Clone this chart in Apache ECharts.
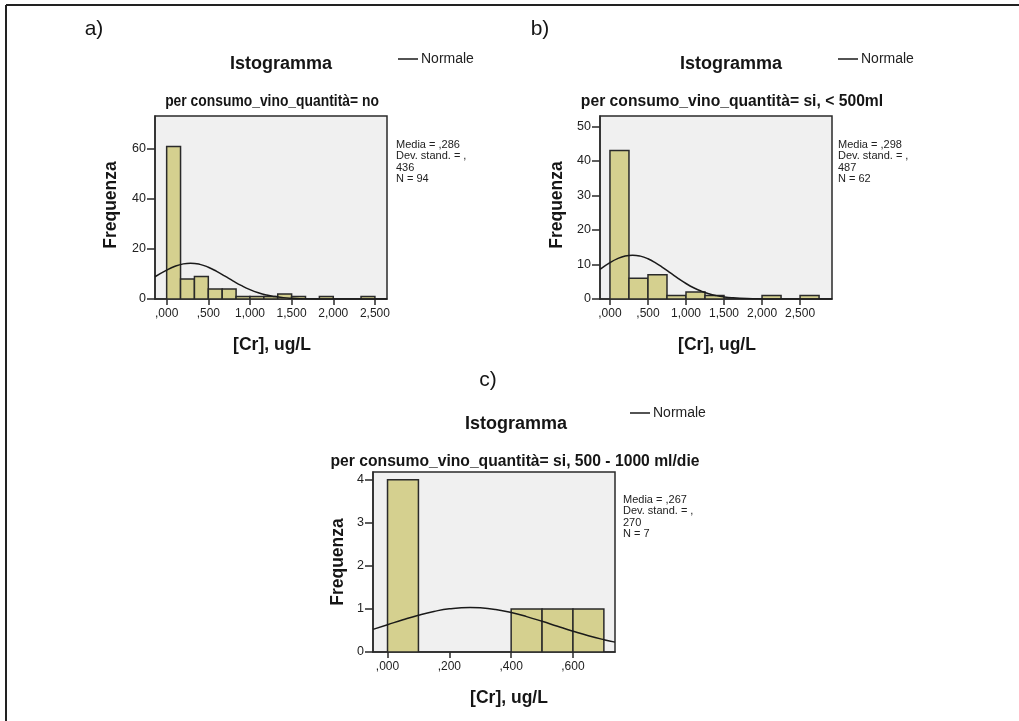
<!DOCTYPE html>
<html>
<head>
<meta charset="utf-8">
<script src="https://cdn.jsdelivr.net/npm/echarts@6/dist/echarts.min.js"></script>
<style>
html,body{margin:0;padding:0;background:#fff;}
#c{width:1019px;height:721px;}
</style>
</head>
<body>
<div id="c"></div>
<script>
// ---------- DATA ----------
// Panel a) consumo_vino_quantità = no
const binStartA = 0;
const binWidthA = 1 / 6;
const countsA = [61, 8, 9, 4, 4, 1, 1, 1, 2, 1, 0, 1, 0, 0, 1];
const curveXA = [-0.14, 0, 0.1, 0.2, 0.286, 0.4, 0.5, 0.6, 0.7, 0.8, 0.9, 1.0, 1.1, 1.2, 1.3, 1.4, 1.5, 1.6, 1.8, 2.0, 2.645];
const curveYA = [8.90, 11.55, 13.08, 14.05, 14.33, 13.85, 12.70, 11.06, 9.13, 7.15, 5.32, 3.75, 2.51, 1.59, 0.96, 0.55, 0.30, 0.15, 0.03, 0.0, 0.0];
const xTicksA = [0, 0.5, 1, 1.5, 2, 2.5];
const xTickLabelsA = [',000', ',500', '1,000', '1,500', '2,000', '2,500'];
const yTicksA = [0, 20, 40, 60];
const statsA = ['Media = ,286', 'Dev. stand. = ,', '436', 'N = 94'];
const subtitleA = 'per consumo_vino_quantità= no';

// Panel b) consumo_vino_quantità = si, < 500ml
const binStartB = 0;
const binWidthB = 0.25;
const countsB = [43, 6, 7, 1, 2, 1, 0, 0, 1, 0, 1];
const curveXB = [-0.131, 0, 0.1, 0.2, 0.298, 0.4, 0.5, 0.6, 0.7, 0.8, 0.9, 1.0, 1.1, 1.2, 1.3, 1.4, 1.5, 1.6, 1.8, 2.0, 2.2, 2.92];
const curveYB = [8.61, 10.53, 11.69, 12.45, 12.70, 12.42, 11.66, 10.48, 9.03, 7.47, 5.92, 4.49, 3.27, 2.29, 1.53, 0.98, 0.60, 0.36, 0.11, 0.03, 0.01, 0.0];
const xTicksB = [0, 0.5, 1, 1.5, 2, 2.5];
const xTickLabelsB = [',000', ',500', '1,000', '1,500', '2,000', '2,500'];
const yTicksB = [0, 10, 20, 30, 40, 50];
const statsB = ['Media = ,298', 'Dev. stand. = ,', '487', 'N = 62'];
const subtitleB = 'per consumo_vino_quantità= si, < 500ml';

// Panel c) consumo_vino_quantità = si, 500 - 1000 ml/die
const binStartC = 0;
const binWidthC = 0.1;
const countsC = [4, 0, 0, 0, 1, 1, 1];
const curveXC = [-0.047, 0, 0.05, 0.1, 0.15, 0.2, 0.267, 0.3, 0.35, 0.4, 0.45, 0.5, 0.55, 0.6, 0.65, 0.7, 0.736];
const curveYC = [0.526, 0.634, 0.749, 0.854, 0.941, 1.003, 1.034, 1.026, 0.986, 0.916, 0.822, 0.713, 0.597, 0.484, 0.378, 0.286, 0.229];
const xTicksC = [0, 0.2, 0.4, 0.6];
const xTickLabelsC = [',000', ',200', ',400', ',600'];
const yTicksC = [0, 1, 2, 3, 4];
const statsC = ['Media = ,267', 'Dev. stand. = ,', '270', 'N = 7'];
const subtitleC = 'per consumo_vino_quantità= si, 500 - 1000 ml/die';

const mainTitle = 'Istogramma';
const legendName = 'Normale';
const yTitle = 'Frequenza';
const xTitle = '[Cr], ug/L';
const panelLetters = ['a)', 'b)', 'c)'];

// ---------- BUILD ----------
const FONT = "'Liberation Sans', Arial, sans-serif";
const BAR_FILL = '#d5d08f';
const EDGE = '#2a2a2a';

function bins(start, width, counts) {
  const out = [];
  counts.forEach((c, i) => { if (c > 0) out.push([start + i * width, start + (i + 1) * width, c]); });
  return out;
}
function pairs(xs, ys) { return xs.map((x, i) => [x, ys[i]]); }

const panels = [
  { grid: { left: 155, top: 116, width: 232, height: 183 }, xmin: -0.14, xmax: 2.645, ymax: 73.2,
    bins: bins(binStartA, binWidthA, countsA), curve: pairs(curveXA, curveYA),
    xt: xTicksA, xl: xTickLabelsA, yt: yTicksA },
  { grid: { left: 600, top: 116, width: 232, height: 183 }, xmin: -0.131, xmax: 2.92, ymax: 53.0,
    bins: bins(binStartB, binWidthB, countsB), curve: pairs(curveXB, curveYB),
    xt: xTicksB, xl: xTickLabelsB, yt: yTicksB },
  { grid: { left: 373, top: 472, width: 242, height: 180 }, xmin: -0.047, xmax: 0.736, ymax: 4.18,
    bins: bins(binStartC, binWidthC, countsC), curve: pairs(curveXC, curveYC),
    xt: xTicksC, xl: xTickLabelsC, yt: yTicksC }
];

const grid = [], xAxis = [], yAxis = [], series = [];
panels.forEach((p, i) => {
  grid.push(Object.assign({ show: true, backgroundColor: '#f0f0f0', borderColor: EDGE, borderWidth: 1.5 }, p.grid));
  xAxis.push({
    type: 'value', gridIndex: i, min: p.xmin, max: p.xmax,
    axisLine: { show: true, onZero: false, lineStyle: { color: EDGE, width: 1.5 } },
    axisTick: { show: true, length: 6, customValues: p.xt, lineStyle: { color: EDGE, width: 1.5 } },
    axisLabel: { customValues: p.xt, margin: 9, color: '#222', fontSize: 12, fontFamily: FONT,
      formatter: v => { const k = p.xt.findIndex(t => Math.abs(t - v) < 1e-9); return k >= 0 ? p.xl[k] : ''; } },
    splitLine: { show: false }
  });
  yAxis.push({
    type: 'value', gridIndex: i, min: 0, max: p.ymax,
    axisLine: { show: true, onZero: false, lineStyle: { color: EDGE, width: 1.5 } },
    axisTick: { show: true, length: 8, customValues: p.yt, lineStyle: { color: EDGE, width: 1.5 } },
    axisLabel: { customValues: p.yt, margin: 9, color: '#222', fontSize: 12.5, fontFamily: FONT },
    splitLine: { show: false }
  });
  series.push({
    type: 'custom', xAxisIndex: i, yAxisIndex: i, data: p.bins, encode: { x: [0, 1], y: 2 },
    clip: true, z: 2, silent: true,
    renderItem: (params, api) => {
      const a = api.coord([api.value(0), 0]);
      const b = api.coord([api.value(1), api.value(2)]);
      return { type: 'rect', shape: { x: a[0], y: b[1], width: b[0] - a[0], height: a[1] - b[1] },
        style: { fill: BAR_FILL, stroke: EDGE, lineWidth: 1.5 } };
    }
  });
  series.push({
    type: 'line', name: legendName, xAxisIndex: i, yAxisIndex: i, data: p.curve,
    smooth: true, showSymbol: false, clip: true, z: 3, silent: true,
    lineStyle: { color: '#1a1a1a', width: 1.5 }, itemStyle: { color: '#1a1a1a' }
  });
});

const legendPos = [[398, 52], [838, 52], [630, 406]];
const legend = legendPos.map(p => ({
  data: [legendName], left: p[0], top: p[1], padding: 0, icon: 'rect', itemWidth: 20, itemHeight: 1.5,
  selectedMode: false, textStyle: { fontSize: 14, fontFamily: FONT, color: '#222', padding: [0, 0, 0, -2] }
}));

function txt(x, y, s, size, weight, opts) {
  return Object.assign({ type: 'text', x: x, y: y, silent: true,
    style: { text: s, fontSize: size, fontWeight: weight || 'normal', fontFamily: FONT,
      fill: '#151515', align: 'center', verticalAlign: 'middle' } }, opts || {});
}
function stats(x, y, lines) {
  return { type: 'text', x: x, y: y, silent: true,
    style: { text: lines.join('\n'), fontSize: 11, lineHeight: 11.5, fontFamily: FONT, fill: '#222',
      align: 'left', verticalAlign: 'top' } };
}

const graphic = [
  { type: 'line', shape: { x1: 6, y1: 5, x2: 1019, y2: 5 }, style: { stroke: '#222', lineWidth: 2 }, silent: true },
  { type: 'line', shape: { x1: 6, y1: 5, x2: 6, y2: 721 }, style: { stroke: '#222', lineWidth: 2 }, silent: true },
  txt(94, 29, panelLetters[0], 21, 'normal'),
  txt(540, 29, panelLetters[1], 21, 'normal'),
  txt(488, 380, panelLetters[2], 21, 'normal'),
  txt(281, 64, mainTitle, 18, 'bold'),
  txt(731, 64, mainTitle, 18, 'bold'),
  txt(516, 424, mainTitle, 18, 'bold'),
  txt(272, 101, subtitleA, 16.5, 'bold', { scaleX: 0.84 }),
  txt(732, 101, subtitleB, 16.5, 'bold', { scaleX: 0.95 }),
  txt(515, 461, subtitleC, 16.5, 'bold', { scaleX: 0.95 }),
  txt(111, 205, yTitle, 17.5, 'bold', { rotation: Math.PI / 2 }),
  txt(557, 205, yTitle, 17.5, 'bold', { rotation: Math.PI / 2 }),
  txt(338, 562, yTitle, 17.5, 'bold', { rotation: Math.PI / 2 }),
  txt(272, 345, xTitle, 17.5, 'bold'),
  txt(717, 345, xTitle, 17.5, 'bold'),
  txt(509, 698, xTitle, 17.5, 'bold'),
  stats(396, 139, statsA),
  stats(838, 139, statsB),
  stats(623, 494, statsC)
];

const chart = echarts.init(document.getElementById('c'), null, { renderer: 'canvas' });
chart.setOption({
  animation: false,
  backgroundColor: '#ffffff',
  grid: grid, xAxis: xAxis, yAxis: yAxis, series: series, legend: legend, graphic: graphic
});
</script>
</body>
</html>
